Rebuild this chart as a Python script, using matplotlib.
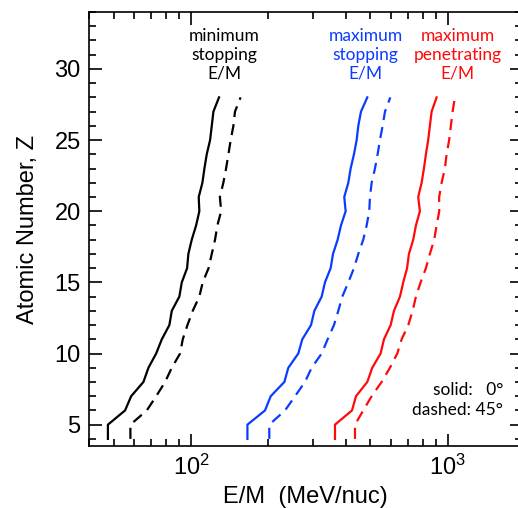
import matplotlib
matplotlib.use("Agg")
import matplotlib.pyplot as plt
from matplotlib.ticker import LogLocator, MultipleLocator

# atomic number, Z = 4..28
Z = list(range(4, 29))

# minimum stopping E/M (MeV/nuc)
min_0 = [47.4, 47.4, 55.3, 58.4, 65.2, 68.2, 73.1, 76.9, 82.3, 84.1, 90.0, 92.0, 96.5,
         97.6, 100.6, 104.6, 107.7, 107.1, 110.7, 112.7, 115.1, 118.6, 120.4, 122.2, 128.5]
min_45 = [58.0, 58.0, 67.2, 73.1, 79.2, 84.1, 90.6, 92.8, 96.8, 101.5, 107.7, 111.0, 117.0,
          120.4, 124.0, 126.6, 131.0, 129.5, 133.6, 136.9, 139.8, 142.7, 146.2, 148.3, 156.0]

# maximum stopping E/M
max_0 = [165.8, 165.8, 194.2, 204.4, 231.0, 239.4, 261.8, 271.4, 293.5, 302.4, 322.9, 332.6, 350.0,
         357.5, 372.7, 384.0, 400.5, 395.5, 410.1, 418.8, 431.5, 442.0, 448.6, 459.6, 486.3]
max_45 = [201.8, 201.8, 232.4, 254.2, 278.0, 295.1, 322.9, 340.7, 360.6, 374.9, 388.6, 410.2, 431.5,
          448.6, 469.0, 483.5, 495.0, 498.1, 505.7, 521.0, 533.5, 544.8, 558.0, 570.0, 598.0]

# maximum penetrating E/M
pen_0 = [363.9, 363.9, 424.0, 439.4, 486.3, 508.5, 548.0, 564.9, 599.8, 617.8, 652.1, 671.5, 695.0,
         706.7, 734.5, 752.5, 779.8, 768.0, 792.0, 808.5, 823.0, 840.0, 853.0, 866.3, 906.0]
pen_45 = [435.5, 435.5, 469.0, 505.7, 553.0, 596.0, 636.6, 662.0, 702.5, 730.6, 752.5, 784.9, 823.0,
          853.0, 886.8, 906.0, 927.6, 927.0, 947.6, 976.0, 991.0, 1014.0, 1030.0, 1045.7, 1067.6]

plt.rcParams['font.family'] = 'Liberation Sans'
plt.rcParams['mathtext.fontset'] = 'custom'
plt.rcParams['mathtext.rm'] = 'Liberation Sans'

fig = plt.figure(figsize=(5.18, 5.08), dpi=100)
ax = fig.add_axes([89/518, 1-446/508, (522-89)/518, (446-12)/508])

blue = '#0a3cff'
red = '#ff0a0a'
dash = (0, (5, 3.2))
ax.plot(min_0, Z, color='black', lw=1.6)
ax.plot(min_45, Z, color='black', lw=1.6, linestyle=dash)
ax.plot(max_0, Z, color=blue, lw=1.6)
ax.plot(max_45, Z, color=blue, lw=1.6, linestyle=dash)
ax.plot(pen_0, Z, color=red, lw=1.6)
ax.plot(pen_45, Z, color=red, lw=1.6, linestyle=dash)

ax.set_xscale('log')
ax.set_xlim(40, 1950)
ax.set_ylim(3.5, 34)
ax.yaxis.set_major_locator(MultipleLocator(5))
ax.yaxis.set_minor_locator(MultipleLocator(1))
ax.xaxis.set_major_locator(LogLocator(base=10))
ax.xaxis.set_minor_locator(LogLocator(base=10, subs=range(2, 10)))

ax.tick_params(which='both', direction='in', top=True, right=True, labelsize=17, pad=6)
ax.tick_params(which='major', length=9, width=1.2)
ax.tick_params(which='minor', length=5, width=1.2)
for s in ax.spines.values():
    s.set_linewidth(1.2)

ax.set_xlabel("E/M  (MeV/nuc)", fontsize=17, labelpad=5)
ax.set_ylabel("Atomic Number, Z", fontsize=17, labelpad=11)

tfont = 'Lato'
ax.text(134.5, 31.0, "minimum\nstopping\nE/M", ha='center', va='center', fontsize=12.5,
        family=tfont, color='black', linespacing=1.2)
ax.text(479, 31.0, "maximum\nstopping\nE/M", ha='center', va='center', fontsize=12.5,
        family=tfont, color=blue, linespacing=1.2)
ax.text(1096, 31.0, "maximum\npenetrating\nE/M", ha='center', va='center', fontsize=12.5,
        family=tfont, color=red, linespacing=1.2)
ax.text(1645, 6.75, "solid:   0°\ndashed: 45°", ha='right', va='center', fontsize=12.5,
        family=tfont, color='black', linespacing=1.3, multialignment='right')

fig.savefig("out.png", dpi=100)
